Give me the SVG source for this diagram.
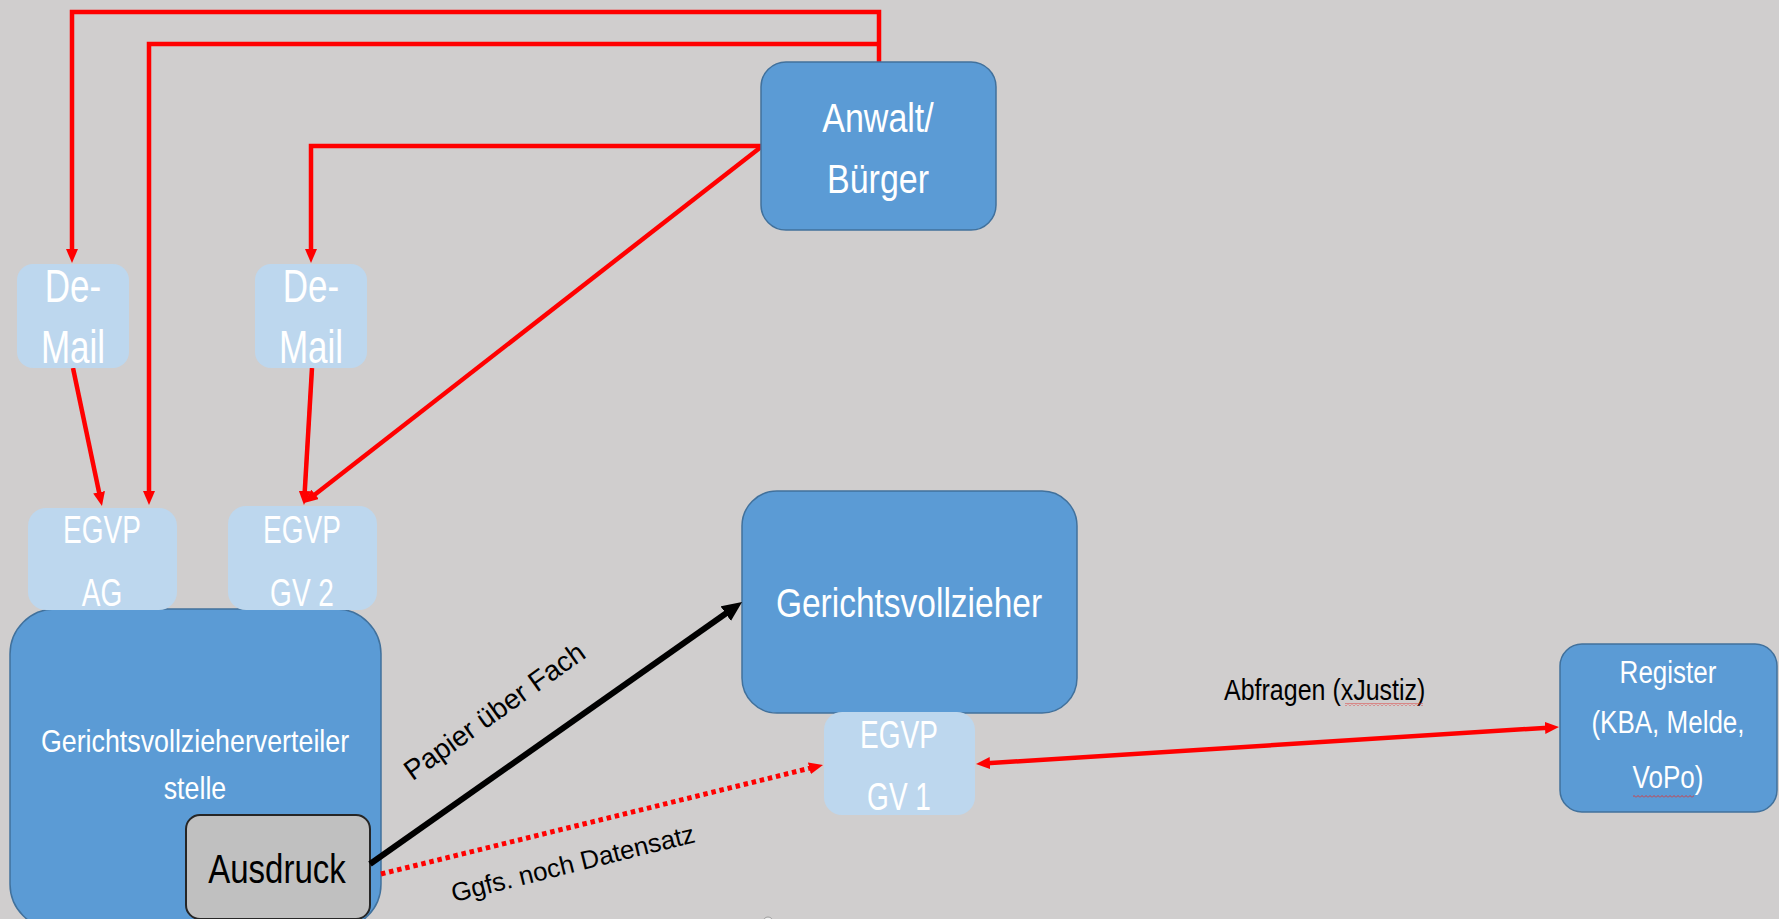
<svg xmlns="http://www.w3.org/2000/svg" width="1779" height="919" viewBox="0 0 1779 919">
  <defs>
    <style>
      .dark { fill: #5b9bd5; stroke: #41719c; stroke-width: 1.5; }
      .light { fill: #bdd7ee; stroke: none; }
      .gray { fill: #c0c0c0; stroke: #262626; stroke-width: 2; }
      .wt { font-family: "Liberation Sans", Arial, sans-serif; fill: #ffffff; text-anchor: middle; }
      .bt { font-family: "Liberation Sans", Arial, sans-serif; fill: #000000; }
      .red { fill: none; stroke: #ff0000; stroke-width: 4.5; }
      .reddot { fill: none; stroke: #ff0000; stroke-width: 5; stroke-dasharray: 4.5 3.8; }
      .black { fill: none; stroke: #000000; stroke-width: 6; }
    </style>
    <marker id="ra" viewBox="0 0 14 12" markerWidth="14" markerHeight="12" refX="3" refY="6" orient="auto-start-reverse" markerUnits="userSpaceOnUse">
      <path d="M0,0 L14,6 L0,12 z" fill="#ff0000"/>
    </marker>
    <marker id="ba" viewBox="0 0 20 18" markerWidth="20" markerHeight="18" refX="4" refY="9" orient="auto" markerUnits="userSpaceOnUse">
      <path d="M0,0 L20,9 L0,18 z" fill="#000000"/>
    </marker>
    <pattern id="squiggle" x="0" y="0" width="4" height="3" patternUnits="userSpaceOnUse">
      <path d="M0,2.5 L2,0.5 L4,2.5" fill="none" stroke="#e03030" stroke-width="0.9"/>
    </pattern>
  </defs>

  <rect x="0" y="0" width="1779" height="919" fill="#d0cece"/>

  <g id="connectors">
    <path class="red" d="M879,62 V12 H72 V252" marker-end="url(#ra)"/>
    <path class="red" d="M879,44 H149 V494" marker-end="url(#ra)"/>
    <path class="red" d="M761,146 H311 V252" marker-end="url(#ra)"/>
    <path class="red" d="M761,147 L312.7,496.2" marker-end="url(#ra)"/>
    <path class="red" d="M73,368 L99.7,495.2" marker-end="url(#ra)"/>
    <path class="red" d="M312,368 L304.6,494" marker-end="url(#ra)"/>
  </g>

  <g id="node-gvv">
    <rect class="dark" x="10" y="609" width="371" height="320" rx="45"/>
    <text class="wt" font-size="26.8" transform="translate(195,752) scale(1,1.2)">Gerichtsvollzieherverteiler</text>
    <text class="wt" font-size="26.8" transform="translate(195,799) scale(1,1.2)">stelle</text>
  </g>

  <g id="node-ausdruck">
    <rect class="gray" x="186" y="815" width="184" height="104" rx="14"/>
    <text class="bt" font-size="33" text-anchor="middle" transform="translate(277,883) scale(1,1.25)">Ausdruck</text>
  </g>

  <g id="node-anwalt">
    <rect class="dark" x="761" y="62" width="235" height="168" rx="25"/>
    <text class="wt" font-size="34" transform="translate(878,132) scale(1,1.22)">Anwalt/</text>
    <text class="wt" font-size="34" transform="translate(878,193) scale(1,1.22)">Bürger</text>
  </g>

  <g id="node-demail-1">
    <rect class="light" x="17" y="264" width="112" height="104" rx="16"/>
    <text class="wt" font-size="35" transform="translate(73,302) scale(1,1.3)">De-</text>
    <text class="wt" font-size="35" transform="translate(73,363) scale(1,1.3)">Mail</text>
  </g>

  <g id="node-demail-2">
    <rect class="light" x="255" y="264" width="112" height="104" rx="16"/>
    <text class="wt" font-size="35" transform="translate(311,302) scale(1,1.3)">De-</text>
    <text class="wt" font-size="35" transform="translate(311,363) scale(1,1.3)">Mail</text>
  </g>

  <g id="node-egvp-ag">
    <rect class="light" x="28" y="508" width="149" height="102" rx="18"/>
    <text class="wt" font-size="28" transform="translate(102,543) scale(1,1.38)">EGVP</text>
    <text class="wt" font-size="28" transform="translate(102,606) scale(1,1.38)">AG</text>
  </g>

  <g id="node-egvp-gv2">
    <rect class="light" x="228" y="506" width="149" height="104" rx="18"/>
    <text class="wt" font-size="28" transform="translate(302,543) scale(1,1.38)">EGVP</text>
    <text class="wt" font-size="28" transform="translate(302,606) scale(1,1.38)">GV 2</text>
  </g>

  <g id="node-gv">
    <rect class="dark" x="742" y="491" width="335" height="222" rx="35"/>
    <text class="wt" font-size="33.5" transform="translate(909,617) scale(1,1.2)">Gerichtsvollzieher</text>
  </g>

  <g id="node-egvp-gv1">
    <rect class="light" x="824" y="712" width="151" height="103" rx="18"/>
    <text class="wt" font-size="28" transform="translate(899,748) scale(1,1.38)">EGVP</text>
    <text class="wt" font-size="28" transform="translate(899,810) scale(1,1.38)">GV 1</text>
  </g>

  <g id="node-register">
    <rect class="dark" x="1560" y="644" width="217" height="168" rx="22"/>
    <text class="wt" font-size="26" transform="translate(1668,683) scale(1,1.2)">Register</text>
    <text class="wt" font-size="26" transform="translate(1668,733) scale(1,1.2)">(KBA, Melde,</text>
    <text class="wt" font-size="26" transform="translate(1668,788) scale(1,1.2)">VoPo)</text>
    <rect x="1633" y="795" width="61" height="3" fill="url(#squiggle)"/>
  </g>

  <g id="connectors-lower">
    <path class="black" d="M370,864 L729,611.3" marker-end="url(#ba)"/>
    <path class="reddot" d="M381,874 L812.3,767.6" marker-end="url(#ra)"/>
    <path class="red" d="M987,763.3 L1548,727.7" marker-start="url(#ra)" marker-end="url(#ra)"/>
  </g>

  <g id="labels">
    <text class="bt" font-size="28" text-anchor="middle" transform="translate(500,719) rotate(-35.5)">Papier über Fach</text>
    <text class="bt" font-size="26" text-anchor="middle" transform="translate(575,872) rotate(-14)">Ggfs. noch Datensatz</text>
    <text class="bt" font-size="25" transform="translate(1224,700) scale(1,1.2)">Abfragen (xJustiz)</text>
    <rect x="1345" y="703" width="78" height="3" fill="url(#squiggle)"/>
  </g>

  <circle cx="768" cy="922" r="5" fill="#f0f0f0" stroke="#9a9a9a" stroke-width="1"/>
</svg>
